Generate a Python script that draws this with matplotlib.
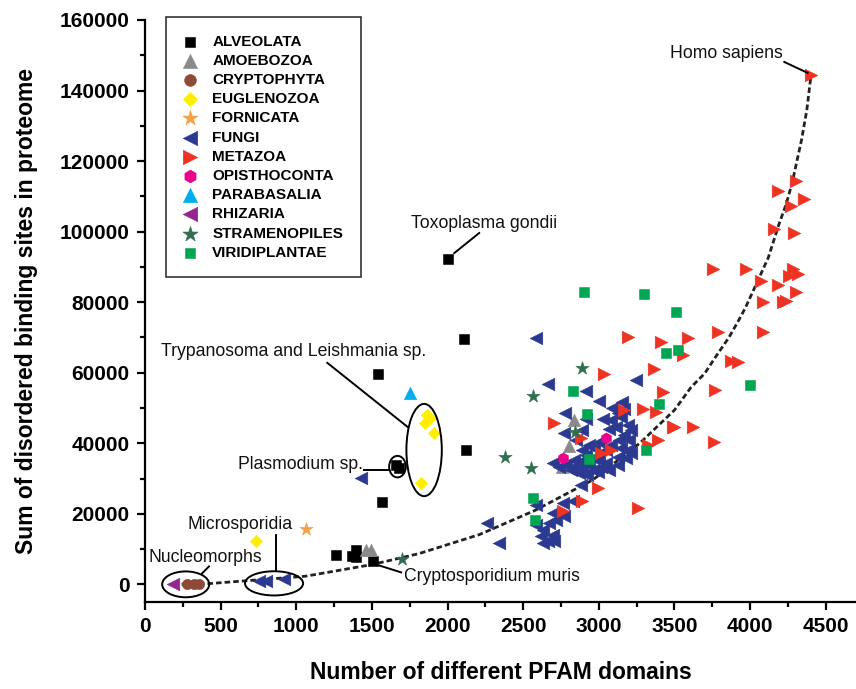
import matplotlib
matplotlib.use("Agg")
import matplotlib.pyplot as plt
from matplotlib.patches import Ellipse
from matplotlib.ticker import MultipleLocator

plt.rcParams['font.family'] = ['Liberation Sans', 'DejaVu Sans']

# values: (PFAM domains, binding sites)
alveolata_x = [2004, 2110, 2121, 1543, 1565, 1658, 1680, 1265, 1371, 1398, 1393, 1504]
alveolata_y = [92250, 69600, 38080, 59720, 23220, 33850, 32910, 8180, 7990, 9680, 7810, 6690]

amoebozoa_x = [1460, 1493, 2837, 2804, 2756]
amoebozoa_y = [9680, 9680, 46550, 39210, 33200]

cryptophyta_x = [280, 324, 357]
cryptophyta_y = [0, 0, 0]

euglenozoa_x = [732, 1867, 1885, 1852, 1911, 1823]
euglenozoa_y = [12220, 47960, 47110, 45600, 42970, 28690]

fornicata_x = [1067]
fornicata_y = [15710]

fungi_x = [754, 800, 919, 1427, 2264, 2341,
           2584, 2661, 3245, 2915, 2998, 3087, 3153, 3168, 3124, 2778, 2915,
           3025, 3080, 3146, 3113, 3190, 3212, 3069, 2771, 2892, 3168, 3201,
           3135, 2848, 3003, 2970, 3047, 3080, 3146, 3190, 2937, 2892, 2915,
           2959, 3003, 3124, 3179, 3212, 2837, 2870, 2694, 2738, 2782, 2826,
           2815, 2892, 2937, 2959, 3014, 3047, 3069, 3124, 2870, 2925, 2992,
           2881, 2760, 2826, 2694, 2771, 2584, 2584, 2628, 2672, 2617, 2694,
           2661, 2705, 2628, 2716]
fungi_y = [1000, 1000, 1500, 30100, 17400, 11760,
           69880, 56900, 58030, 54820, 51990, 50130, 51710, 49850, 48440, 48610, 46740,
           46740, 46550, 47480, 44660, 45140, 43730, 43920, 42790, 43730, 42320, 40900,
           40900, 40900, 40430, 38560, 38080, 39490, 38560, 38080, 39490, 38080, 36670,
           35740, 35260, 36200, 35740, 37150, 35260, 34780, 34310, 33370, 33850, 33370,
           32440, 33370, 33850, 32440, 33370, 34310, 32440, 33850, 31510, 31030, 31970,
           28210, 23050, 23500, 20230, 19270, 22570, 16930, 15510, 17400, 13630, 14110,
           12220, 12220, 11760, 18340]

metazoa_x = [4403, 4303, 4182, 4359, 4270, 4160, 4292, 3752, 3973, 4281, 4314,
             4259, 4072, 4182, 4303, 4237, 4215, 4083, 3785, 4083, 3411, 3587,
             3554, 3874, 3917, 3367, 3422, 3770, 3289, 3378, 3499, 3620, 3389,
             3763, 3190, 3036, 3168, 2705, 3488, 2881, 3322, 3014, 3080, 2992,
             2892, 2760, 3256]
metazoa_y = [144500, 114250, 111430, 109260, 107390, 100620, 99670, 89510, 89510, 89510, 87930,
             87450, 86040, 84820, 82740, 80400, 79920, 79920, 71460, 71460, 68630, 69880,
             64880, 63190, 62990, 61130, 54530, 55210, 49850, 48890, 44490, 44490, 40900,
             40260, 70040, 59720, 49370, 45610, 44660, 41360, 39490, 37150, 38080, 27280,
             23500, 20680, 21640]

opisthoconta_x = [3047, 2765]
opisthoconta_y = [41360, 35740]

parabasalia_x = [1753]
parabasalia_y = [54360]

rhizaria_x = [185]
rhizaria_y = [0]

stramenopiles_x = [1702, 2562, 2379, 2551, 2892, 2844]
stramenopiles_y = [7050, 53400, 36200, 32900, 61410, 43250]

viridiplantae_x = [2904, 3300, 3510, 3444, 3521, 2826, 2921, 3400, 2932, 3311, 2562, 2580, 4002]
viridiplantae_y = [83020, 82270, 77100, 65540, 66500, 54820, 48420, 51060, 35460, 38080, 24460, 18340, 56620]

# dashed trend curve
curve_x = [185, 420, 1060, 1500, 1810, 2210, 2580, 2960, 3270, 3500, 3610,
           3700, 3780, 3860, 3920, 3970, 4050, 4120, 4190, 4240, 4280, 4340, 4375, 4403]
curve_y = [0, 200, 2300, 5600, 8700, 14100, 21000, 29600, 40000, 49400, 55900,
           59800, 65000, 70000, 74500, 78500, 86000, 92600, 102000, 108000, 114200, 126000, 134500, 144500]

groups = [
    ("ALVEOLATA", alveolata_x, alveolata_y, "s", "#000000", 44),
    ("AMOEBOZOA", amoebozoa_x, amoebozoa_y, "^", "#8a8a8a", 80),
    ("CRYPTOPHYTA", cryptophyta_x, cryptophyta_y, "o", "#8e4a37", 55),
    ("EUGLENOZOA", euglenozoa_x, euglenozoa_y, "D", "#ffee00", 40),
    ("FORNICATA", fornicata_x, fornicata_y, "*", "#f7a04a", 100),
    ("FUNGI", fungi_x, fungi_y, "<", "#2b3990", 82),
    ("METAZOA", metazoa_x, metazoa_y, ">", "#ee3323", 82),
    ("OPISTHOCONTA", opisthoconta_x, opisthoconta_y, "h", "#ec008c", 65),
    ("PARABASALIA", parabasalia_x, parabasalia_y, "^", "#00aeef", 80),
    ("RHIZARIA", rhizaria_x, rhizaria_y, "<", "#92278f", 82),
    ("STRAMENOPILES", stramenopiles_x, stramenopiles_y, "*", "#2f6f4f", 100),
    ("VIRIDIPLANTAE", viridiplantae_x, viridiplantae_y, "s", "#00a651", 44),
]

# label text, text position, leader line start, leader line end
notes = [
    ("Homo sapiens", (3843, 150400), (4226, 148100), (4380, 145000)),
    ("Toxoplasma gondii", (2242, 102400), (2044, 93900), (2209, 99600)),
    ("Trypanosoma and Leishmania sp.", (985, 65900), (1205, 62800), (1735, 44660)),
    ("Plasmodium sp.", (1025, 33850), (1450, 32400), (1615, 32400)),
    ("Microsporidia", (628, 16900), (866, 14100), (866, 3950)),
    ("Nucleomorphs", (397, 7600), (423, 5080), (377, 3100)),
    ("Cryptosporidium muris", (2295, 2300), (1548, 5360), (1693, 3390)),
]

# (center x, center y, width, height) of the drawn ellipses
rings = [
    (269, 0, 311, 7330),
    (853, 280, 384, 6860),
    (1845, 38080, 234, 26150),
    (1669, 33370, 110, 6100),
]

fig = plt.figure(figsize=(8.56, 6.89), dpi=100)
ax = fig.add_axes([0.1694, 0.1263, 0.8306, 0.8447])

ax.plot(curve_x, curve_y, linestyle=(0, (2.0, 1.1)), color="#222222", lw=2, zorder=1)

handles = []
for name, xs, ys, mk, col, sz in groups:
    h = ax.scatter(xs, ys, marker=mk, s=sz, color=col, edgecolors=col,
                   linewidths=0.4, label=name, zorder=3)
    handles.append(h)

for cx, cy, w, hgt in rings:
    ax.add_patch(Ellipse((cx, cy), w, hgt, fill=False, ec="black", lw=1.4, zorder=4))

for txt, pos, p0, p1 in notes:
    ax.text(pos[0], pos[1], txt, fontsize=12.7, ha="center", va="center", color="#111111")
    ax.plot([p0[0], p1[0]], [p0[1], p1[1]], color="black", lw=1.4, zorder=4)

ax.set_xlim(0, 4700)
ax.set_ylim(-5000, 160000)
ax.xaxis.set_major_locator(MultipleLocator(500))
ax.xaxis.set_minor_locator(MultipleLocator(250))
ax.yaxis.set_major_locator(MultipleLocator(20000))
ax.yaxis.set_minor_locator(MultipleLocator(10000))
ax.set_xticks([0, 500, 1000, 1500, 2000, 2500, 3000, 3500, 4000, 4500])

for s in ["top", "right"]:
    ax.spines[s].set_visible(False)
for s in ["left", "bottom"]:
    ax.spines[s].set_linewidth(1.6)

ax.tick_params(which="major", direction="out", length=6, width=1.6, labelsize=15, pad=5)
ax.tick_params(which="minor", direction="out", length=3.5, width=1.6)
for lab in ax.get_xticklabels() + ax.get_yticklabels():
    lab.set_fontweight("bold")

ax.set_xlabel("Number of different PFAM domains", fontsize=16.5, fontweight="bold", labelpad=18)
ax.set_ylabel("Sum of disordered binding sites in proteome", fontsize=16.5, fontweight="bold", labelpad=16)

leg = ax.legend(handles=handles, loc="upper left", bbox_to_anchor=(0.0295, 1.005),
                frameon=True, fancybox=False, edgecolor="black", markerscale=1.15,
                prop={"weight": "bold", "size": 11}, labelspacing=0.34,
                handlelength=0.78, handletextpad=1.1, borderpad=1.15, borderaxespad=0)
leg.get_frame().set_linewidth(1.2)

fig.savefig("out.png", dpi=100)
